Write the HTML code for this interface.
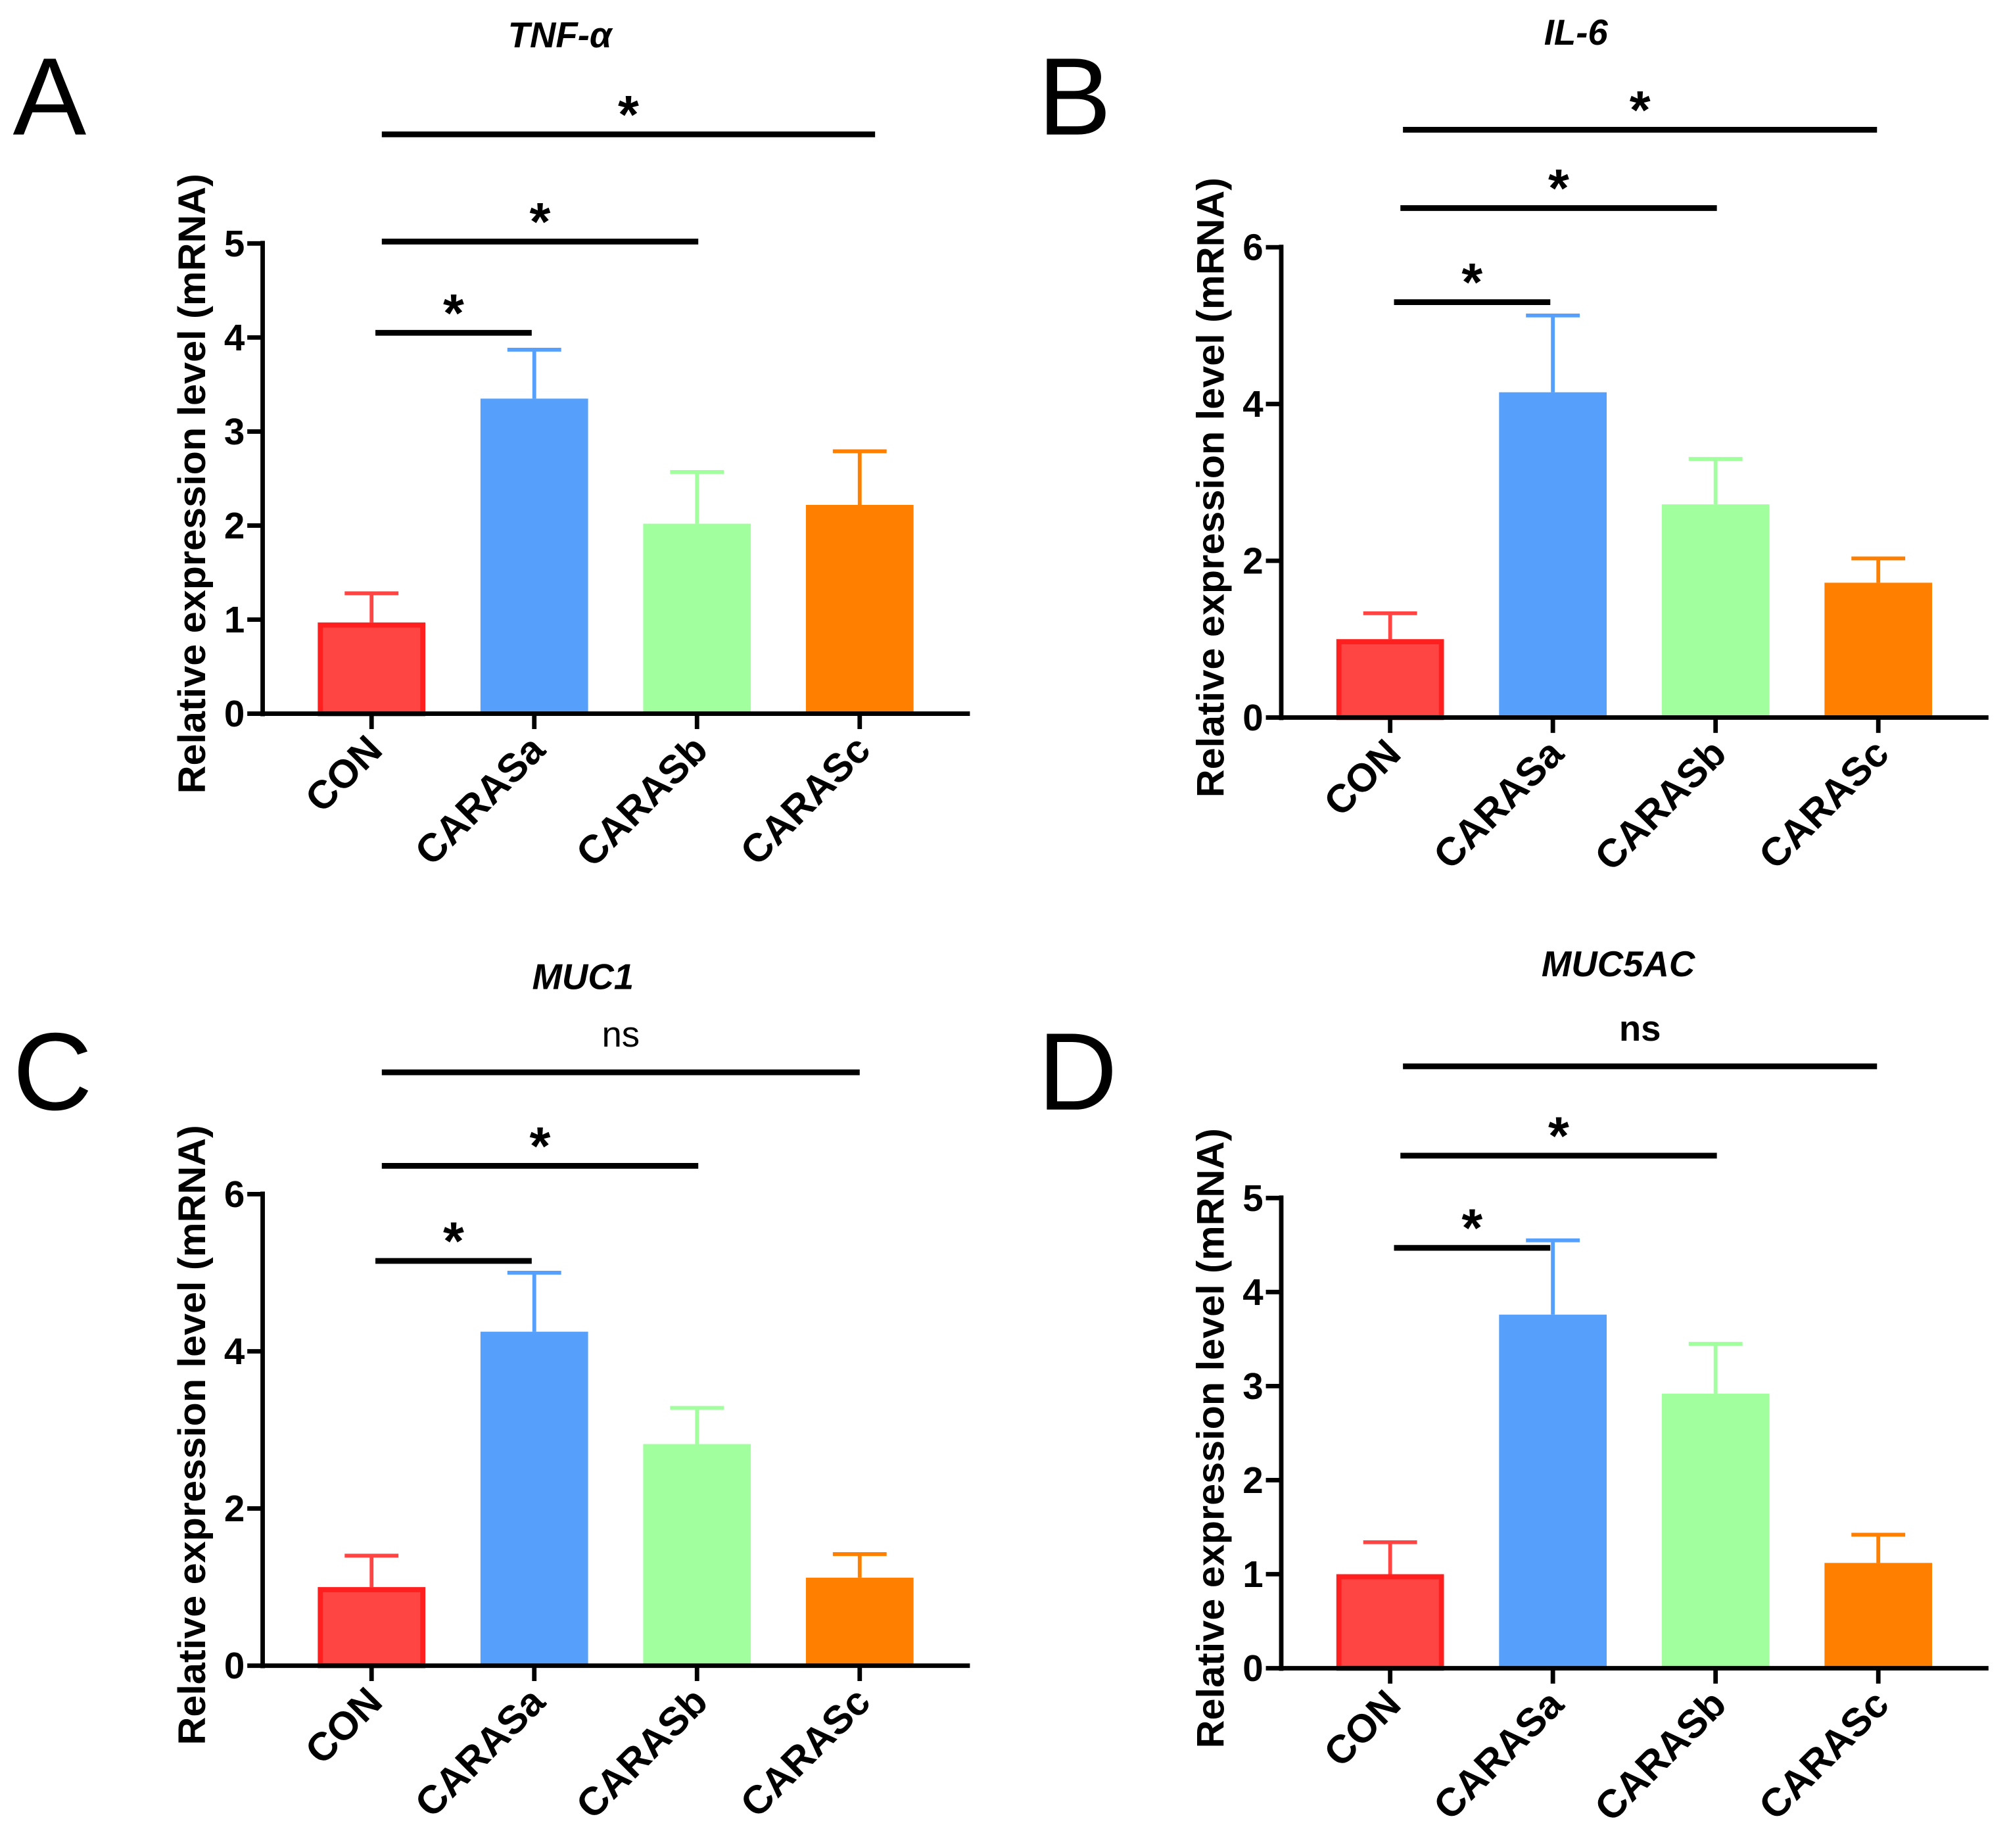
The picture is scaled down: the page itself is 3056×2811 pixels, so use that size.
<!DOCTYPE html>
<html><head><meta charset="utf-8"><style>
html,body{margin:0;padding:0;background:#fff}
svg{display:block;font-family:"Liberation Sans",Arial,sans-serif}
</style></head><body>
<svg id="fig" width="3056" height="2811" viewBox="0 0 1568 1442.3" xmlns="http://www.w3.org/2000/svg"></svg>
<script>
const categories = ["CON","CARASa","CARASb","CARASc"];
const colors = ["#ff4444","#56a0fb","#a2ff9e","#ff8000"];
const titles = ["TNF-α","IL-6","MUC1","MUC5AC"];
const letters = ["A","B","C","D"];
const meansA = [0.97, 3.35, 2.02, 2.22];
const errA = [1.28, 3.87, 2.57, 2.79];
const meansB = [1.0, 4.15, 2.72, 1.72];
const errB = [1.33, 5.13, 3.3, 2.03];
const meansC = [1.0, 4.25, 2.82, 1.12];
const errC = [1.4, 5.0, 3.28, 1.42];
const meansD = [1.0, 3.76, 2.92, 1.12];
const errD = [1.34, 4.55, 3.45, 1.42];
const ticksA = [0,1,2,3,4,5];
const ticksB = [0,2,4,6];
const ticksC = [0,2,4,6];
const ticksD = [0,1,2,3,4,5];
const sigLevelsA = [4.05, 5.02, 6.16];
const sigLevelsB = [5.3, 6.5, 7.5];
const sigLevelsC = [5.15, 6.36, 7.55];
const sigLevelsD = [4.47, 5.45, 6.4];
const sigLabelsA = ["*","*","*"];
const sigLabelsB = ["*","*","*"];
const sigLabelsC = ["*","*","ns"];
const sigLabelsD = ["*","*","ns"];

const NS="http://www.w3.org/2000/svg";
const svg=document.getElementById('fig');
function mk(tag,attrs,parent){const e=document.createElementNS(NS,tag);for(const k in attrs)e.setAttribute(k,attrs[k]);(parent||svg).appendChild(e);return e;}

const panels=[
 {ox:0,means:meansA,err:errA,ticks:ticksA,ymax:5,top:190,zero:557,sig:sigLevelsA,sl:sigLabelsA,nsBold:false,titleY:27,titleX:437,letterY:105},
 {ox:795,means:meansB,err:errB,ticks:ticksB,ymax:6,top:193,zero:560,sig:sigLevelsB,sl:sigLabelsB,nsBold:false,titleY:25,titleX:1230,letterY:105},
 {ox:0,means:meansC,err:errC,ticks:ticksC,ymax:6,top:932,zero:1300,sig:sigLevelsC,sl:sigLabelsC,nsBold:false,titleY:762,titleX:455,letterY:866},
 {ox:795,means:meansD,err:errD,ticks:ticksD,ymax:5,top:935,zero:1302,sig:sigLevelsD,sl:sigLabelsD,nsBold:true,titleY:752,titleX:1263,letterY:866}
];
const sigX=[[293,415],[298,545],[298,683]];
panels.forEach((p,i)=>{
  const g=mk('g',{});
  
  
  const ax=205+p.ox, xEnd=757+p.ox;
  const y=v=>p.zero-(v/p.ymax)*(p.zero-p.top);
  const xc=k=>290+p.ox+k*127;
  const L=mk('text',{x:10+p.ox+(i%2?5:0),y:p.letterY,'font-size':86,fill:'#000'},g);L.textContent=letters[i];
  
  const T=mk('text',{x:p.titleX,y:p.titleY+10,'font-size':28,'font-weight':'bold','font-style':'italic','text-anchor':'middle'},g);T.textContent=titles[i];
  
  p.means.forEach((m,k)=>{
    const x=xc(k);
    const eb=mk('g',{},g);
    
    mk('line',{x1:x,x2:x,y1:y(m),y2:y(p.err[k]),stroke:colors[k],'stroke-width':3},eb);
    mk('line',{x1:x-21,x2:x+21,y1:y(p.err[k]),y2:y(p.err[k]),stroke:colors[k],'stroke-width':3},eb);
    const r=mk('rect',{x:x-42,y:y(m),width:84,height:p.zero-y(m),fill:colors[k]},g);
    if(k===0){r.setAttribute('stroke','#ff1f1f');r.setAttribute('stroke-width',4);r.setAttribute('x',x-40);r.setAttribute('width',80);r.setAttribute('y',y(m)+2);r.setAttribute('height',p.zero-y(m)-2);}
    
    mk('line',{x1:x,x2:x,y1:p.zero,y2:p.zero+12,stroke:'#000','stroke-width':3.5},g);
    const tx=x+10, ty=p.zero+30;
    const lt=mk('text',{x:tx,y:ty,'font-size':31,'font-weight':'bold','text-anchor':'end',transform:`rotate(-45 ${tx} ${ty})`},g);
    lt.textContent=categories[k];
    
  });
  const ya=mk('line',{x1:ax,x2:ax,y1:p.top-2,y2:p.zero+2,stroke:'#000','stroke-width':3.5},g);
  
  const xa=mk('line',{x1:ax-2,x2:xEnd,y1:p.zero,y2:p.zero,stroke:'#000','stroke-width':3.5},g);
  
  p.ticks.forEach(t=>{
    mk('line',{x1:ax-12,x2:ax,y1:y(t),y2:y(t),stroke:'#000','stroke-width':3.5},g);
    const tt=mk('text',{x:ax-14,y:y(t)+10,'font-size':29,'font-weight':'bold','text-anchor':'end'},g);
    tt.textContent=t;
    
  });
  const cy=(p.top+p.zero)/2+4;
  const yx=ax-45;
  const yt=mk('text',{x:yx,y:cy,'font-size':30,'font-weight':'bold','text-anchor':'middle',transform:`rotate(-90 ${yx} ${cy})`,textLength:484,lengthAdjust:'spacingAndGlyphs'},g);
  yt.textContent='Relative expression level (mRNA)';
  
  p.sig.forEach((s,j)=>{
    const sy=y(s);
    let x1=sigX[j][0]+p.ox, x2=sigX[j][1]+p.ox;
    if(j===2&&i===2) x2-=12;
    if(j===2&&(i===1||i===3)){x1+=2;x2-=13;}
    const sl=mk('line',{x1:x1,x2:x2,y1:sy,y2:sy,stroke:'#000','stroke-width':4.5},g);
    
    const isNs=p.sl[j]==='ns';
    const st=mk('text',{x:(x1+x2)/2,y:isNs?sy-20:sy-1,'font-size':isNs?28:42,'font-weight':(isNs&&!p.nsBold)?'normal':'bold','text-anchor':'middle'},g);
    st.textContent=p.sl[j];
    
  });
});
</script>
</body></html>
